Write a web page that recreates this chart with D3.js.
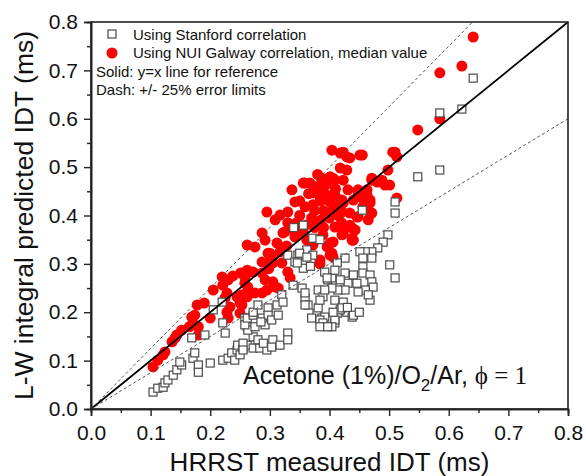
<!DOCTYPE html>
<html>
<head>
<meta charset="utf-8">
<script src="https://cdn.jsdelivr.net/npm/d3@7"></script>
<style>
  body { margin: 0; background: #fff; }
  text { font-family: Arial, "Liberation Sans", sans-serif; }
</style>
</head>
<body>
<div class="mainContent"></div>
<script>
const w = 586;
const h = 476;
const margin = {left: 91, right: 18, top: 22, bottom: 67};

const axisTicks = [0.0, 0.1, 0.2, 0.3, 0.4, 0.5, 0.6, 0.7, 0.8];
const minorTicks = [0.05, 0.15, 0.25, 0.35, 0.45, 0.55, 0.65, 0.75];
const legendLabels = ['Using Stanford correlation', 'Using NUI Galway correlation, median value'];
const noteLines = ['Solid: y=x line for reference', 'Dash: +/- 25% error limits'];
const errorBand = [1.25, 0.75];

// red circles: NUI Galway correlation [measured, predicted]
const galway = [
  [0.104,0.087],[0.112,0.101],[0.121,0.112],[0.124,0.118],[0.136,0.139],[0.141,0.147],[0.144,0.153],
  [0.152,0.163],[0.165,0.17],[0.171,0.178],[0.169,0.19],[0.174,0.194],[0.18,0.153],[0.18,0.17],
  [0.2,0.188],[0.178,0.215],[0.19,0.219],[0.205,0.246],[0.22,0.273],[0.221,0.256],[0.23,0.267],
  [0.238,0.275],[0.228,0.24],[0.228,0.2],[0.233,0.211],[0.245,0.232],[0.25,0.219],[0.262,0.232],
  [0.25,0.198],[0.23,0.188],[0.258,0.273],[0.225,0.23],[0.251,0.281],[0.262,0.287],[0.287,0.304],
  [0.298,0.29],[0.275,0.24],[0.287,0.24],[0.295,0.246],[0.253,0.236],[0.253,0.215],[0.258,0.26],
  [0.263,0.252],[0.262,0.281],[0.272,0.283],[0.287,0.281],[0.292,0.267],[0.305,0.263],[0.309,0.252],
  [0.314,0.25],[0.33,0.283],[0.334,0.271],[0.32,0.302],[0.305,0.302],[0.295,0.302],[0.303,0.312],
  [0.297,0.322],[0.317,0.325],[0.312,0.343],[0.262,0.339],[0.275,0.335],[0.287,0.364],[0.292,0.349],
  [0.322,0.364],[0.342,0.356],[0.356,0.364],[0.362,0.349],[0.376,0.349],[0.389,0.36],[0.401,0.343],
  [0.384,0.308],[0.401,0.318],[0.404,0.322],[0.406,0.345],[0.438,0.349],[0.409,0.376],[0.423,0.364],
  [0.438,0.374],[0.443,0.37],[0.423,0.376],[0.465,0.391],[0.434,0.38],
  [0.295,0.407],[0.309,0.391],[0.317,0.401],[0.33,0.407],[0.325,0.366],[0.337,0.453],[0.356,0.467],
  [0.342,0.428],[0.359,0.418],[0.372,0.422],[0.387,0.477],[0.401,0.48],[0.404,0.535],[0.418,0.529],
  [0.423,0.531],[0.434,0.519],[0.455,0.525],[0.429,0.494],[0.418,0.498],[0.423,0.473],[0.409,0.473],
  [0.448,0.453],[0.463,0.453],[0.455,0.436],[0.468,0.432],[0.423,0.426],[0.44,0.432],[0.456,0.418],
  [0.471,0.405],[0.434,0.405],[0.446,0.397],[0.471,0.473],[0.488,0.473],[0.501,0.463],[0.498,0.494],
  [0.51,0.531],[0.513,0.521],[0.513,0.436],[0.548,0.577],[0.585,0.6],[0.585,0.695],[0.622,0.709],
  [0.641,0.769],
  [0.38,0.46],[0.39,0.45],[0.395,0.44],[0.385,0.43],[0.40,0.43],[0.41,0.44],[0.375,0.41],[0.39,0.41],
  [0.405,0.41],[0.415,0.42],[0.37,0.395],[0.385,0.39],[0.40,0.395],[0.36,0.38],[0.375,0.375],
  [0.39,0.375],[0.35,0.40],[0.345,0.385],[0.365,0.445],[0.35,0.43],[0.395,0.465],[0.41,0.455],
  [0.38,0.485],[0.415,0.40],[0.42,0.385],[0.33,0.385],[0.34,0.37],[0.30,0.322],[0.328,0.337],
  [0.352,0.37],[0.372,0.447],[0.367,0.467],
  [0.423,0.37],[0.438,0.353],[0.384,0.384],[0.468,0.407],[0.448,0.397],[0.421,0.407],[0.468,0.426],
  [0.493,0.463],[0.48,0.469],[0.471,0.477],[0.406,0.477],[0.431,0.453],[0.404,0.442],[0.392,0.467],
  [0.359,0.467],[0.384,0.438],[0.401,0.428],[0.421,0.432],[0.448,0.442],[0.463,0.442],[0.429,0.521],
  [0.451,0.525],[0.506,0.531],[0.372,0.339],[0.396,0.335],[0.406,0.314],[0.44,0.349],[0.421,0.36],
  [0.384,0.3]
];

// open squares: Stanford correlation [measured, predicted]
const stanford = [
  [0.104,0.035],[0.112,0.043],[0.121,0.045],[0.124,0.054],[0.129,0.06],[0.138,0.07],[0.144,0.081],
  [0.152,0.091],[0.149,0.097],[0.171,0.105],[0.18,0.091],[0.18,0.076],[0.2,0.095],[0.174,0.116],
  [0.169,0.147],[0.191,0.153],[0.205,0.205],[0.22,0.221],[0.221,0.178],[0.225,0.157],[0.221,0.101],
  [0.23,0.105],[0.236,0.116],[0.241,0.101],[0.245,0.122],[0.25,0.112],[0.246,0.132],[0.255,0.126],
  [0.262,0.132],[0.258,0.188],[0.262,0.17],
  [0.255,0.136],[0.255,0.122],[0.272,0.126],[0.283,0.126],[0.295,0.122],[0.272,0.149],[0.28,0.143],
  [0.289,0.136],[0.305,0.143],[0.317,0.132],[0.303,0.128],[0.33,0.157],[0.33,0.143],[0.263,0.163],
  [0.275,0.17],[0.292,0.174],[0.258,0.174],[0.262,0.188],[0.272,0.194],[0.287,0.188],[0.297,0.209],
  [0.297,0.194],[0.303,0.184],[0.314,0.194],[0.312,0.215],[0.32,0.236],[0.322,0.221],[0.272,0.2],
  [0.28,0.215],[0.285,0.18],
  [0.33,0.318],[0.347,0.318],[0.362,0.329],[0.372,0.318],[0.356,0.291],[0.342,0.304],[0.339,0.256],
  [0.354,0.25],[0.359,0.229],[0.364,0.215],[0.381,0.246],[0.389,0.232],[0.397,0.267],[0.404,0.271],
  [0.392,0.283],[0.356,0.38],[0.34,0.375],[0.372,0.353],[0.384,0.35],[0.35,0.322],[0.362,0.314],
  [0.346,0.302],[0.368,0.295],
  [0.379,0.198],[0.37,0.188],[0.387,0.188],[0.396,0.174],[0.401,0.184],[0.409,0.178],[0.413,0.198],
  [0.498,0.36],[0.49,0.345],[0.481,0.333],[0.471,0.325],[0.46,0.325],[0.451,0.325],[0.471,0.312],
  [0.456,0.312],[0.426,0.312],[0.413,0.302],[0.501,0.298],[0.51,0.271],[0.456,0.294],[0.456,0.281],
  [0.468,0.277],[0.426,0.281],[0.44,0.277],[0.409,0.287],[0.471,0.263],[0.446,0.26],[0.431,0.26],
  [0.418,0.267],[0.473,0.252],[0.46,0.246],[0.448,0.242],[0.426,0.246],[0.414,0.246],[0.404,0.25],
  [0.468,0.225],[0.465,0.236],[0.409,0.225],[0.423,0.221],[0.429,0.2],[0.438,0.19],[0.418,0.205],
  [0.409,0.184],[0.404,0.17],[0.359,0.24],[0.359,0.215],[0.381,0.209],[0.421,0.209],[0.44,0.194],
  [0.406,0.2],[0.392,0.19],[0.384,0.184],[0.389,0.178],[0.384,0.17],[0.397,0.17],[0.392,0.246],
  [0.396,0.271],[0.384,0.225],[0.43,0.21],[0.45,0.2],
  [0.51,0.428],[0.51,0.405],[0.548,0.48],[0.585,0.494],[0.585,0.612],[0.622,0.62],[0.641,0.684],
  [0.455,0.411]
];

function draw() {
    const svg = d3.select('.mainContent')
        .append('svg')
        .attr('width', w)
        .attr('height', h);

    const xScale = d3.scaleLinear()
        .domain([0, 0.8])
        .range([margin.left, w - margin.right]);
    const yScale = d3.scaleLinear()
        .domain([0, 0.8])
        .range([h - margin.bottom, margin.top]);

    const x0 = xScale.range()[0], x1 = xScale.range()[1];
    const y0 = yScale.range()[0], y1 = yScale.range()[1];

    svg.append('defs').append('clipPath').attr('id', 'plotClip')
        .append('rect')
        .attr('x', x0).attr('y', y1)
        .attr('width', x1 - x0).attr('height', y0 - y1);

    const plot = svg.append('g').attr('clip-path', 'url(#plotClip)');

    // red circles first, squares on top
    plot.selectAll('circle.galway')
        .data(galway)
        .enter()
        .append('circle')
        .attr('class', 'galway')
        .attr('r', 5.5)
        .attr('cx', d => xScale(d[0]))
        .attr('cy', d => yScale(d[1]))
        .attr('fill', '#ff0000');

    const sq = 8;
    plot.selectAll('rect.stanford')
        .data(stanford)
        .enter()
        .append('rect')
        .attr('class', 'stanford')
        .attr('x', d => xScale(d[0]) - sq / 2)
        .attr('y', d => yScale(d[1]) - sq / 2)
        .attr('width', sq)
        .attr('height', sq)
        .attr('fill', '#fff')
        .attr('stroke', '#4a4a4a')
        .attr('stroke-width', 1.2);

    // reference lines
    plot.append('line')
        .attr('x1', xScale(0)).attr('y1', yScale(0))
        .attr('x2', xScale(0.8)).attr('y2', yScale(0.8))
        .attr('stroke', '#000').attr('stroke-width', 1.8);
    errorBand.forEach(k => {
        plot.append('line')
            .attr('x1', xScale(0)).attr('y1', yScale(0))
            .attr('x2', xScale(0.8)).attr('y2', yScale(0.8 * k))
            .attr('stroke', '#555').attr('stroke-width', 1)
            .attr('stroke-dasharray', '3,2.5');
    });

    // frame
    svg.append('rect')
        .attr('x', x0).attr('y', y1)
        .attr('width', x1 - x0).attr('height', y0 - y1)
        .attr('fill', 'none').attr('stroke', '#222').attr('stroke-width', 1.6);

    // axes
    const xAxis = d3.axisBottom(xScale).tickValues(axisTicks).tickFormat(d3.format('.1f'))
        .tickSize(7).tickPadding(9);
    const yAxis = d3.axisLeft(yScale).tickValues(axisTicks).tickFormat(d3.format('.1f'))
        .tickSize(7).tickPadding(6);

    const gx = svg.append('g')
        .attr('transform', `translate(0,${y0})`)
        .call(xAxis);
    const gy = svg.append('g')
        .attr('transform', `translate(${x0},0)`)
        .call(yAxis);
    svg.append('g')
        .attr('transform', `translate(0,${y0})`)
        .call(d3.axisBottom(xScale).tickValues(minorTicks).tickSize(4).tickFormat(''));
    svg.append('g')
        .attr('transform', `translate(${x0},0)`)
        .call(d3.axisLeft(yScale).tickValues(minorTicks).tickSize(4).tickFormat(''));

    svg.selectAll('.domain').attr('stroke', '#222').attr('stroke-width', 1.6);
    svg.selectAll('.tick line').attr('stroke', '#222').attr('stroke-width', 1.4);
    gx.selectAll('text').style('font-size', '21px').attr('fill', '#111');
    gy.selectAll('text').style('font-size', '21px').attr('fill', '#111');

    // axis titles
    svg.append('text')
        .attr('x', (x0 + x1) / 2).attr('y', 471)
        .attr('text-anchor', 'middle')
        .style('font-size', '26px').attr('fill', '#111')
        .text('HRRST measured IDT (ms)');
    svg.append('text')
        .attr('transform', `translate(33,${(y0 + y1) / 2}) rotate(-90)`)
        .attr('text-anchor', 'middle')
        .style('font-size', '26.5px').attr('fill', '#111')
        .text('L-W integral predicted IDT (ms)');

    // legend
    svg.append('rect')
        .attr('x', 108).attr('y', 30).attr('width', 8).attr('height', 8)
        .attr('fill', '#fff').attr('stroke', '#4a4a4a').attr('stroke-width', 1.2);
    svg.append('circle')
        .attr('cx', 112).attr('cy', 53).attr('r', 5.5).attr('fill', '#ff0000');
    legendLabels.forEach((t, i) => {
        svg.append('text')
            .attr('x', 133).attr('y', 39.5 + i * 18.5)
            .style('font-size', '15px').attr('fill', '#111')
            .text(t);
    });
    noteLines.forEach((t, i) => {
        svg.append('text')
            .attr('x', 96).attr('y', 76.5 + i * 18.5)
            .style('font-size', '15px').attr('fill', '#111')
            .text(t);
    });

    // annotation
    const note = svg.append('text')
        .attr('x', 243).attr('y', 384)
        .style('font-size', '25px').attr('fill', '#111');
    note.append('tspan').text('Acetone (1%)/O');
    note.append('tspan').attr('dy', 7).style('font-size', '17px').text('2');
    note.append('tspan').attr('dy', -7).text('/Ar, ');
    note.append('tspan')
        .style('font-family', '"Liberation Serif", "Times New Roman", serif')
        .style('font-size', '25px')
        .text('\u03D5 = 1');
}

draw();
</script>
</body>
</html>
